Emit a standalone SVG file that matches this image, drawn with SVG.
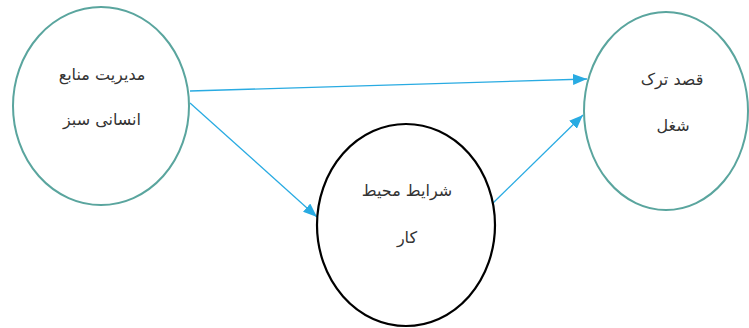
<svg xmlns="http://www.w3.org/2000/svg" width="749" height="328" viewBox="0 0 749 328">
<style>
.teal{fill:#fff;stroke:#5aa59e;stroke-width:2}
.black{fill:#fff;stroke:#000;stroke-width:2.2}
.lbl{font-family:"DejaVu Sans","Noto Sans",sans-serif;font-size:16px;fill:#333;text-anchor:middle;direction:rtl}
.conn{stroke:#29abe2;stroke-width:1.3;fill:none;marker-end:url(#ah)}
</style>
<defs>
<marker id="ah" viewBox="0 0 10 10" refX="10" refY="5" markerWidth="14" markerHeight="11" markerUnits="userSpaceOnUse" orient="auto" preserveAspectRatio="none">
<path d="M0,0 L10,5 L0,10 Z" fill="#29abe2"/>
</marker>
</defs>
<g id="connectors">
<path class="conn" d="M190,91 L587,79"/>
<path class="conn" d="M190,103 L317,217"/>
<path class="conn" d="M493,203 L583,115"/>
</g>
<g id="node-green-hrm">
<ellipse class="teal" cx="101" cy="106" rx="88" ry="99"/>
<text class="lbl" x="102" y="80">مدیریت منابع</text>
<text class="lbl" x="102" y="125">انسانی سبز</text>
</g>
<g id="node-work-environment">
<ellipse class="black" cx="406" cy="225" rx="89" ry="101"/>
<text class="lbl" x="407" y="196">شرایط محیط</text>
<text class="lbl" x="407" y="243">کار</text>
</g>
<g id="node-turnover-intention">
<ellipse class="teal" cx="666" cy="111" rx="82" ry="99"/>
<text class="lbl" x="672" y="85">قصد ترک</text>
<text class="lbl" x="673" y="131">شغل</text>
</g>
</svg>
